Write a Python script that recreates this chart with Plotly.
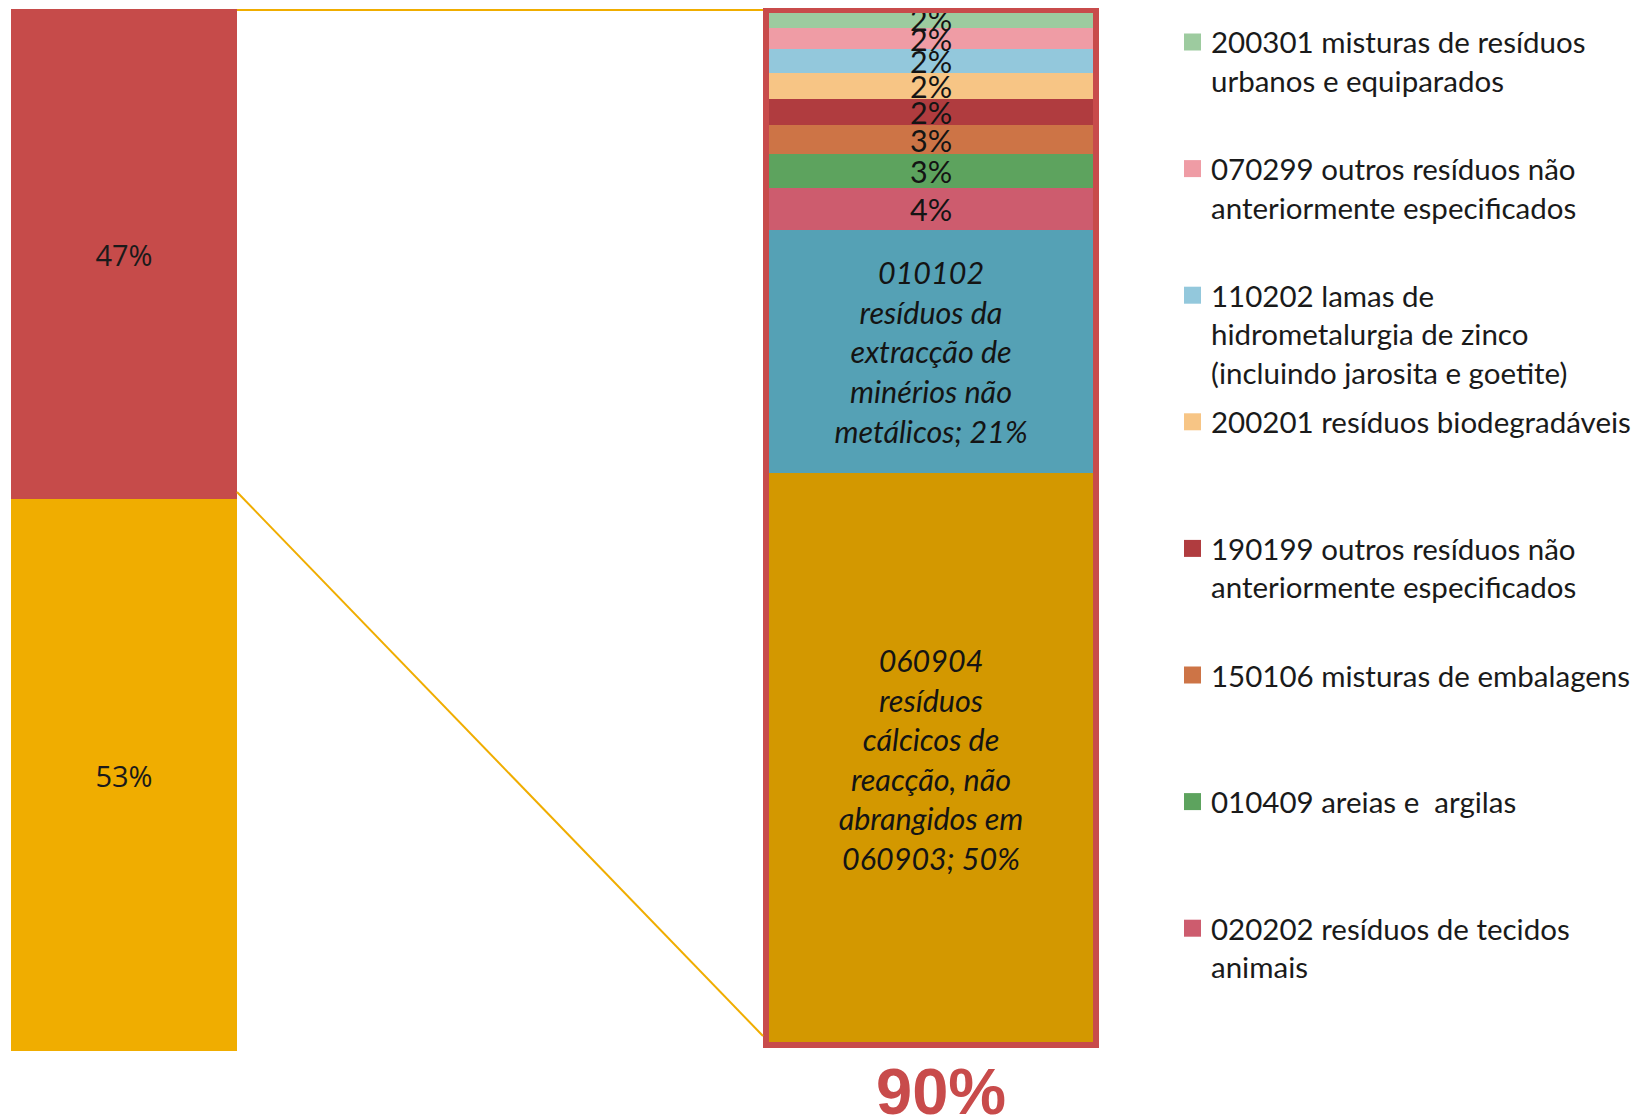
import plotly.graph_objects as go

W, H = 1646, 1116
OFF = 8  # page body margin in the browser
FW, FH = W - OFF, H - OFF

# ---------------- data ----------------
left_names = ["53%", "47%"]
left_values = [53, 47]
left_colors = ["#F0AD00", "#C64B4A"]

# right stacked bar, bottom -> top
right_codes = ["060904", "010102", "020202", "010409", "150106", "190199",
               "200201", "110202", "070299", "200301"]
right_values = [49.7, 21.2, 3.6, 3.0, 2.5, 2.3, 2.2, 2.1, 1.8, 1.6]
right_labels = [
    "<i>060904<br>resíduos<br>cálcicos de<br>reacção, não<br>abrangidos em<br>060903; 50%</i>",
    "<i>010102<br>resíduos da<br>extracção de<br>minérios não<br>metálicos; 21%</i>",
    "4%", "3%", "3%", "2%", "2%", "2%", "2%", "2%",
]
right_colors = ["#D39800", "#55A1B5", "#CD5C6E", "#5DA35E", "#CD7446",
                "#B03C3F", "#F7C585", "#93C8DC", "#EF9CA5", "#9DCB9F"]
total_label = "90%"

# legend (top -> bottom)
legend_items = [
    (["200301 misturas de resíduos", "urbanos e equiparados"], "#9DCB9F"),
    (["070299 outros resíduos não", "anteriormente especificados"], "#EF9CA5"),
    (["110202 lamas de", "hidrometalurgia de zinco", "(incluindo jarosita e goetite)"], "#93C8DC"),
    (["200201 resíduos biodegradáveis"], "#F7C585"),
    (["190199 outros resíduos não", "anteriormente especificados"], "#B03C3F"),
    (["150106 misturas de embalagens"], "#CD7446"),
    (["010409 areias e  argilas"], "#5DA35E"),
    (["020202 resíduos de tecidos", "animais"], "#CD5C6E"),
]

# ---------------- helpers ----------------
def px(x):
    return (x - OFF) / FW


def py(y):
    return 1 - (y - OFF) / FH


FONT = "Lato"
fig = go.Figure()

for name, v, c in zip(left_names, left_values, left_colors):
    fig.add_trace(go.Bar(
        x=[0], y=[v], width=1, marker=dict(color=c, line=dict(width=0)),
        text=[name], textposition="inside", insidetextanchor="middle",
        constraintext="none", textangle=0,
        textfont=dict(family="Open Sans", size=29, color="#1a1a1a"),
        xaxis="x", yaxis="y", showlegend=False, hoverinfo="skip",
    ))

for code, v, lab, c in zip(right_codes, right_values, right_labels, right_colors):
    fig.add_trace(go.Bar(
        x=[0], y=[v], width=1, name=code,
        marker=dict(color=c, line=dict(width=0)),
        text=[lab], textposition="inside", insidetextanchor="middle",
        constraintext="none", textangle=0,
        textfont=dict(family=FONT, size=30.5, color="#141414"),
        xaxis="x2", yaxis="y2", showlegend=False, hoverinfo="skip",
    ))

right_total = sum(right_values)

L_dom = [px(11), px(237)]
R_dom = [px(766), px(1096)]
L_ydom = [py(1051), py(9)]
R_ydom = [py(1045), py(10)]

shapes = []
# border around right bar (paper refs so it is not clipped)
shapes.append(dict(type="rect", xref="paper", yref="paper",
                   x0=R_dom[0], x1=R_dom[1], y0=R_ydom[0], y1=R_ydom[1],
                   line=dict(color="#C84B4B", width=6),
                   fillcolor="rgba(0,0,0,0)"))

# connector lines
shapes.append(dict(type="line", xref="paper", yref="paper",
                   x0=L_dom[1], y0=py(10), x1=px(763), y1=py(10),
                   line=dict(color="#F0AD00", width=2)))
shapes.append(dict(type="line", xref="paper", yref="paper",
                   x0=L_dom[1], y0=py(492), x1=px(763), y1=py(1036),
                   line=dict(color="#F0AD00", width=2)))

annotations = []
# legend
first_y = 42
item_gap = 126.6
line_gap = 38.5
for i, (lines, col) in enumerate(legend_items):
    yc = first_y + i * item_gap
    shapes.append(dict(type="rect", xref="paper", yref="paper",
                       x0=px(1184), x1=px(1201), y0=py(yc + 8.5), y1=py(yc - 8.5),
                       fillcolor=col, line=dict(width=0)))
    for j, t in enumerate(lines):
        annotations.append(dict(
            xref="paper", yref="paper", x=px(1209), y=py(yc + j * line_gap),
            xanchor="left", yanchor="middle", text=t, showarrow=False,
            font=dict(family=FONT, size=29.5, color="#1a1a1a")))

annotations.append(dict(
    xref="paper", yref="paper", x=px(941), y=py(1091), xanchor="center",
    yanchor="middle", text="<b>" + total_label + "</b>", showarrow=False,
    font=dict(family="Liberation Sans", size=65, color="#C84B4B")))

hidden = dict(visible=False, showgrid=False, zeroline=False, fixedrange=True)
fig.update_layout(
    width=FW, height=FH, margin=dict(l=0, r=0, t=0, b=0),
    paper_bgcolor="white", plot_bgcolor="white",
    barmode="stack", bargap=0, showlegend=False,
    xaxis=dict(domain=L_dom, range=[-0.5, 0.5], **hidden),
    yaxis=dict(domain=L_ydom, range=[0, sum(left_values)], **hidden),
    xaxis2=dict(domain=R_dom, range=[-0.5, 0.5], anchor="y2", **hidden),
    yaxis2=dict(domain=R_ydom, range=[0, right_total], anchor="x2", **hidden),
    shapes=shapes, annotations=annotations,
)

fig.write_html("out.html")
